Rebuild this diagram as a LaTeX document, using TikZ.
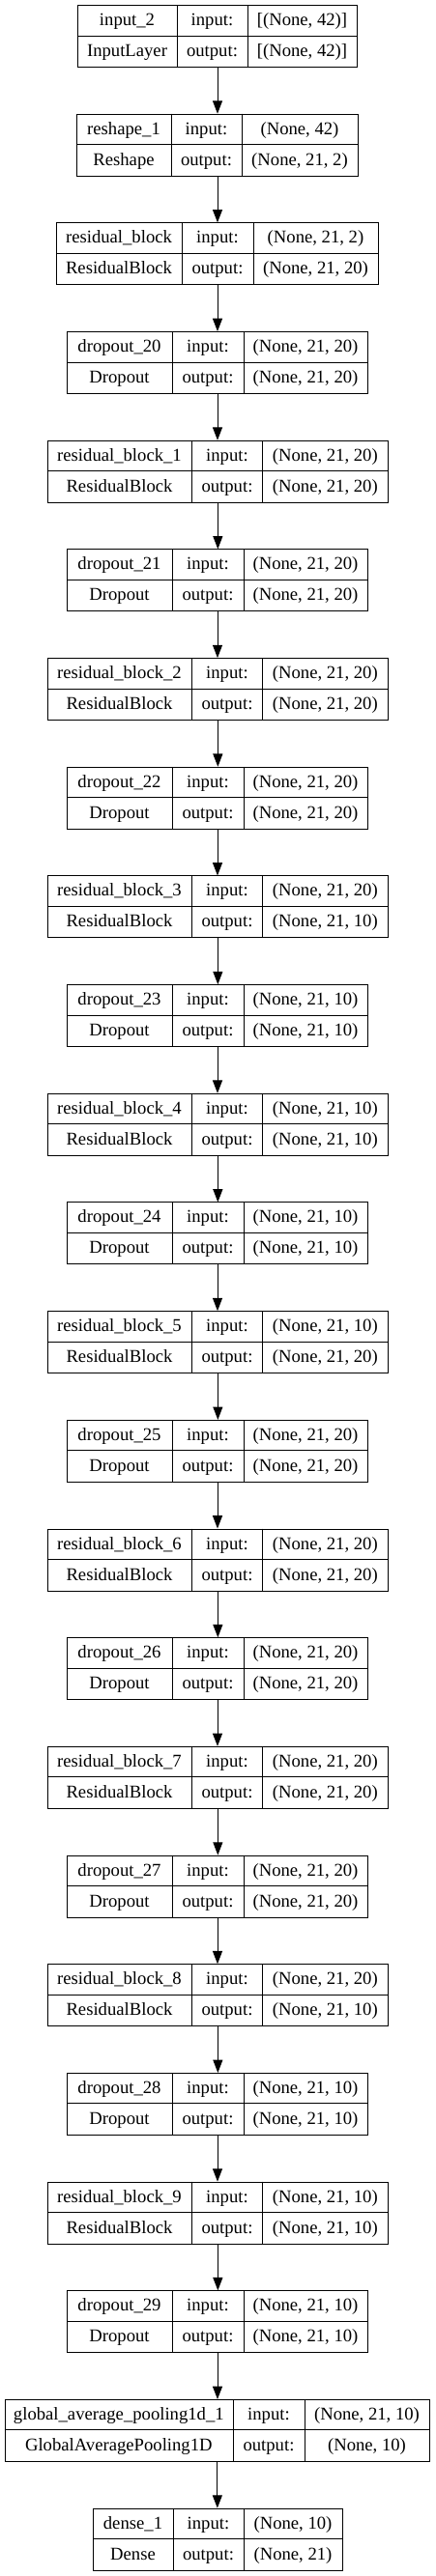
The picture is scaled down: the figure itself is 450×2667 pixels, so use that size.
\documentclass[tikz,border=0pt]{standalone}
\usepackage{fontspec}
\setmainfont{Liberation Serif}
\usetikzlibrary{arrows.meta}
\begin{document}
\begin{tikzpicture}[x=0.75pt,y=-0.75pt,
  box/.style={draw=black,line width=0.75pt,inner sep=0pt,minimum height=48pt},
  sep/.style={draw=black,line width=0.75pt},
  txt/.style={anchor=base,inner sep=0pt,font=\fontsize{14pt}{16pt}\selectfont},
  arr/.style={draw=black,line width=0.75pt,-{Triangle[length=10pt,width=7.5pt]}}]
\useasboundingbox (0,0) rectangle (450,2667);
\foreach \k/\xa/\xb/\xc/\xd/\nm/\cl/\ino/\outo in {
 0/80/183/256/369/input\_2/InputLayer/{[(None, 42)]}/{[(None, 42)]},
 1/79/177/250/370/reshape\_1/Reshape/{(None, 42)}/{(None, 21, 2)},
 2/58/188/262/391/residual\_block/ResidualBlock/{(None, 21, 2)}/{(None, 21, 20)},
 3/69/178/252/380/dropout\_20/Dropout/{(None, 21, 20)}/{(None, 21, 20)},
 4/48.7/198.3/271.7/401/residual\_block\_1/ResidualBlock/{(None, 21, 20)}/{(None, 21, 20)},
 5/69/178/252/380/dropout\_21/Dropout/{(None, 21, 20)}/{(None, 21, 20)},
 6/48.7/198.3/271.7/401/residual\_block\_2/ResidualBlock/{(None, 21, 20)}/{(None, 21, 20)},
 7/69/178/252/380/dropout\_22/Dropout/{(None, 21, 20)}/{(None, 21, 20)},
 8/48.7/198.3/271.7/401/residual\_block\_3/ResidualBlock/{(None, 21, 20)}/{(None, 21, 10)},
 9/69/178/252/380/dropout\_23/Dropout/{(None, 21, 10)}/{(None, 21, 10)},
 10/48.7/198.3/271.7/401/residual\_block\_4/ResidualBlock/{(None, 21, 10)}/{(None, 21, 10)},
 11/69/178/252/380/dropout\_24/Dropout/{(None, 21, 10)}/{(None, 21, 10)},
 12/48.7/198.3/271.7/401/residual\_block\_5/ResidualBlock/{(None, 21, 10)}/{(None, 21, 20)},
 13/69/178/252/380/dropout\_25/Dropout/{(None, 21, 20)}/{(None, 21, 20)},
 14/48.7/198.3/271.7/401/residual\_block\_6/ResidualBlock/{(None, 21, 20)}/{(None, 21, 20)},
 15/69/178/252/380/dropout\_26/Dropout/{(None, 21, 20)}/{(None, 21, 20)},
 16/48.7/198.3/271.7/401/residual\_block\_7/ResidualBlock/{(None, 21, 20)}/{(None, 21, 20)},
 17/69/178/252/380/dropout\_27/Dropout/{(None, 21, 20)}/{(None, 21, 20)},
 18/48.7/198.3/271.7/401/residual\_block\_8/ResidualBlock/{(None, 21, 20)}/{(None, 21, 10)},
 19/69/178/252/380/dropout\_28/Dropout/{(None, 21, 10)}/{(None, 21, 10)},
 20/48.7/198.3/271.7/401/residual\_block\_9/ResidualBlock/{(None, 21, 10)}/{(None, 21, 10)},
 21/69/178/252/380/dropout\_29/Dropout/{(None, 21, 10)}/{(None, 21, 10)},
 22/4.7/241/315/444/global\_average\_pooling1d\_1/GlobalAveragePooling1D/{(None, 21, 10)}/{(None, 10)},
 23/96/179/252/354/dense\_1/Dense/{(None, 10)}/{(None, 21)}}
{
  \pgfmathsetmacro\ty{5+112.68*\k}
  \pgfmathsetmacro\w{(\xd-\xa)*0.75}
  \node[box,minimum width=\w pt,anchor=north west] (L\k) at (\xa,\ty) {};
  \draw[sep] (\xb,\ty) -- ++(0,64);
  \draw[sep] (\xc,\ty) -- ++(0,64);
  \draw[sep] (\xa,\ty+32) -- (\xd,\ty+32);
  \node[txt] (nm\k) at ({(\xa+\xb)/2},\ty+21.5) {\nm};
  \node[txt] (cl\k) at ({(\xa+\xb)/2},\ty+53.5) {\cl};
  \node[txt] (il\k) at ({(\xb+\xc)/2},\ty+21.5) {input:};
  \node[txt] (ol\k) at ({(\xb+\xc)/2},\ty+53.5) {output:};
  \node[txt] (iv\k) at ({(\xc+\xd)/2},\ty+21.5) {\ino};
  \node[txt] (ov\k) at ({(\xc+\xd)/2},\ty+53.5) {\outo};
}
\foreach \k [evaluate=\k as \j using int(\k+1)] in {0,...,22}
  \draw[arr] (L\k.south) -- (L\k.south |- L\j.north);
\end{tikzpicture}
\end{document}
